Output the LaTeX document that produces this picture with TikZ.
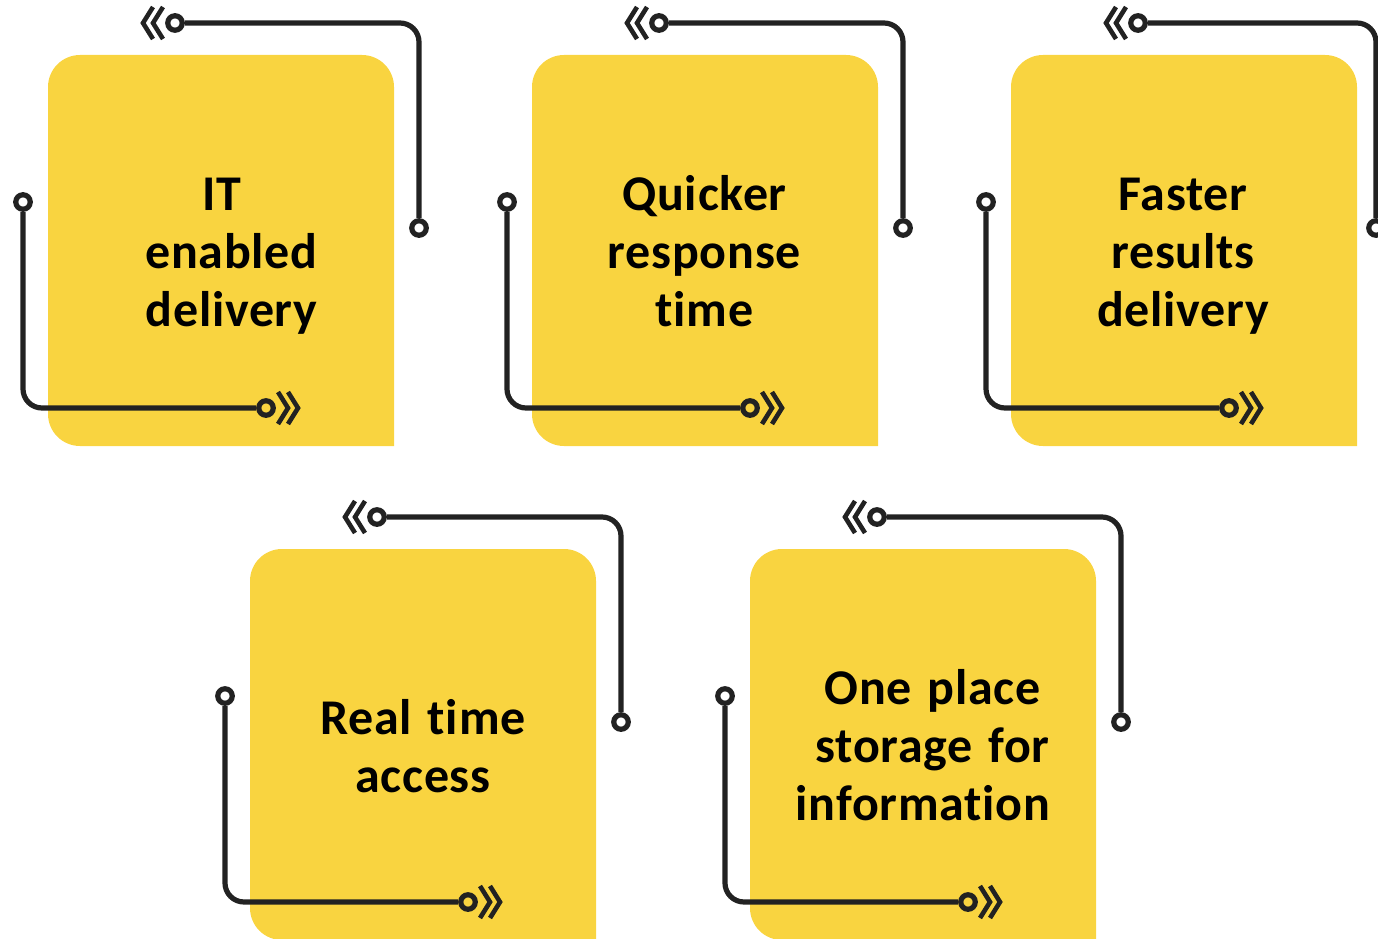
\documentclass[tikz,border=0pt]{standalone}
\usepackage{fontspec}
\setmainfont[LetterSpace=1.5,Ligatures={NoCommon},WordSpace=1.3]{Carlito}
\usetikzlibrary{calc}
\definecolor{cardyellow}{HTML}{F9D440}
\definecolor{wiregray}{HTML}{222222}
\tikzset{
  cardfill/.style={fill=cardyellow},
  wire/.style={draw=wiregray, line width=5.2pt, rounded corners=19pt},
  pin/.style={circle, draw=wiregray, line width=5.2pt, minimum size=14.5pt, inner sep=0pt},
  chevron/.style={draw=wiregray, line width=4.6pt, line join=miter},
  cardtext/.style={font=\bfseries\fontsize{50}{58}\selectfont, align=center, anchor=base, inner sep=0pt, text=black}
}
% #1 = name prefix, #2 = x of the right-hand wire (local)
\newcommand{\cardunit}[2]{%
  \fill[cardfill] (346,391) [rounded corners=32pt] -- (0,391) -- (0,0) -- (346,0) [sharp corners] -- (346,391) -- cycle;
  \node[pin] (#1t) at (127,-32) {};
  \node[pin] (#1r) at (#2,173) {};
  \node[pin] (#1l) at (-25,147) {};
  \node[pin] (#1b) at (218,353) {};
  \draw[wire] (#1t) -| (#1r);
  \draw[wire] (#1l) |- (#1b);
  \draw[chevron] ($(#1t)+(-12,-16)$) -- ($(#1t)+(-22,0)$) -- ($(#1t)+(-12,16)$);
  \draw[chevron] ($(#1t)+(-22,-16)$) -- ($(#1t)+(-32,0)$) -- ($(#1t)+(-22,16)$);
  \draw[chevron] ($(#1b)+(12,-16)$) -- ($(#1b)+(22,0)$) -- ($(#1b)+(12,16)$);
  \draw[chevron] ($(#1b)+(22,-16)$) -- ($(#1b)+(32,0)$) -- ($(#1b)+(22,16)$);
}
\begin{document}
\begin{tikzpicture}[x=1pt,y=-1pt]
\path[use as bounding box] (0,0) rectangle (1378,939);
\clip (0,0) rectangle (1378,939);
\begin{scope}[shift={(48,55)}]
  \cardunit{a}{371}
  \node[cardtext] (atext) at (183.5,271) {\hbox{IT\kern19pt}\\enabled\\delivery};
\end{scope}
\begin{scope}[shift={(532,55)}]
  \cardunit{b}{371}
  \node[cardtext] (btext) at (172.5,271) {Quicker\\response\\time};
\end{scope}
\begin{scope}[shift={(1011,55)}]
  \cardunit{c}{365}
  \node[cardtext] (ctext) at (172,271) {Faster\\results\\delivery};
\end{scope}
\begin{scope}[shift={(250,549)}]
  \cardunit{d}{371}
  \node[cardtext] (dtext) at (173,243) {Real time\\access};
\end{scope}
\begin{scope}[shift={(750,549)}]
  \cardunit{e}{371}
  \node[cardtext] (etext) at (182.5,271) {One place\\storage for\\\hbox{information\kern19pt}};
\end{scope}
\end{tikzpicture}
\end{document}
